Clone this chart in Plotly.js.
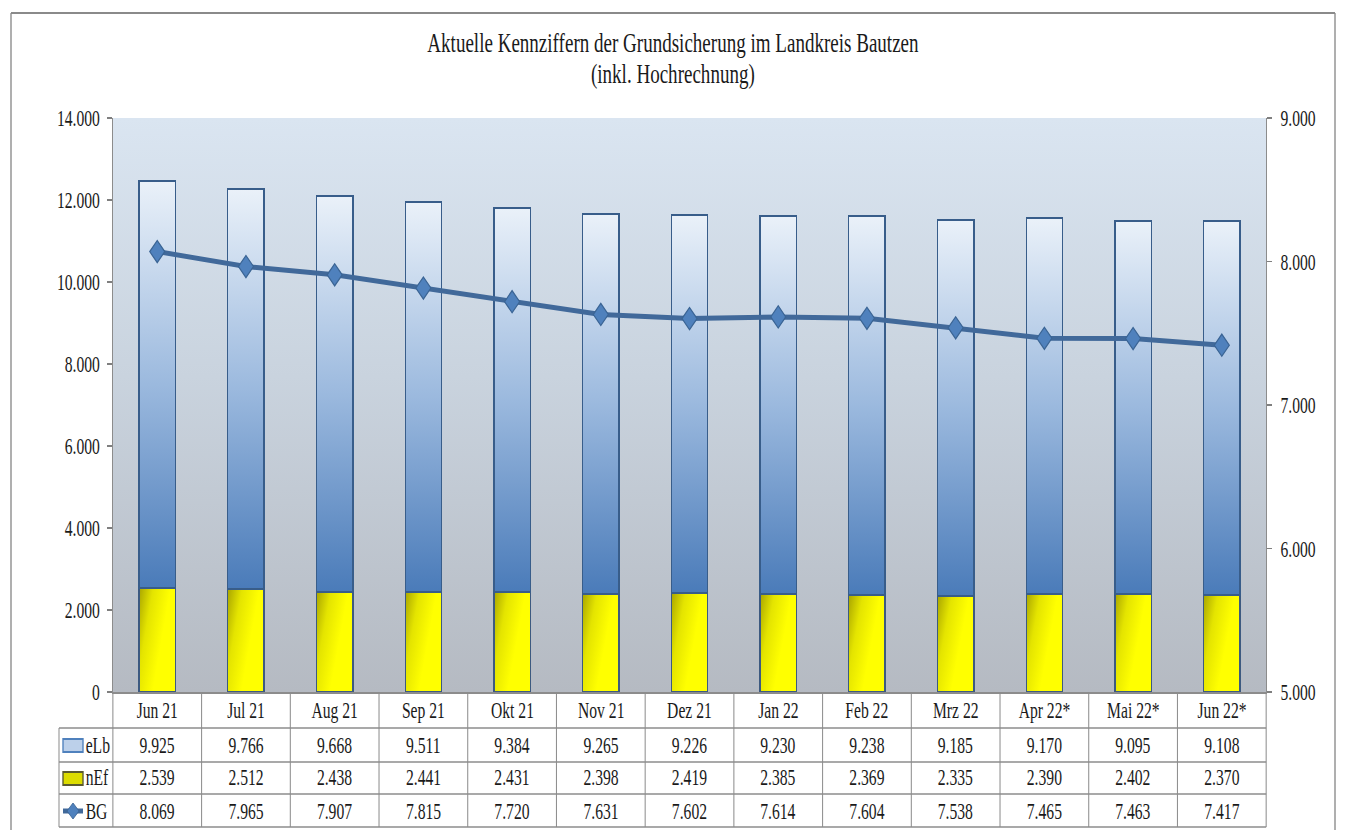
<!DOCTYPE html>
<html>
<head>
<meta charset="utf-8">
<script src="https://cdn.plot.ly/plotly-3.0.1.min.js"></script>
<style>
  html, body { margin: 0; padding: 0; background: #ffffff; overflow: hidden; }
  #wrap { width: 1356px; height: 830px; overflow: hidden; position: relative; }
  #plot { width: 1994px; height: 830px; transform: scaleX(0.68); transform-origin: 0 0; }
</style>
</head>
<body>
<div id="wrap"><div id="plot"></div></div>
<script>
// ---------------- data ----------------
const categories = ['Jun 21','Jul 21','Aug 21','Sep 21','Okt 21','Nov 21','Dez 21','Jan 22','Feb 22','Mrz 22','Apr 22*','Mai 22*','Jun 22*'];
const eLb = [9925, 9766, 9668, 9511, 9384, 9265, 9226, 9230, 9238, 9185, 9170, 9095, 9108];
const nEf = [2539, 2512, 2438, 2441, 2431, 2398, 2419, 2385, 2369, 2335, 2390, 2402, 2370];
const BG  = [8069, 7965, 7907, 7815, 7720, 7631, 7602, 7614, 7604, 7538, 7465, 7463, 7417];
const rowLabels = ['eLb', 'nEf', 'BG'];
const leftTicks  = [0, 2000, 4000, 6000, 8000, 10000, 12000, 14000];
const rightTicks = [5000, 6000, 7000, 8000, 9000];
const titleLine1 = 'Aktuelle Kennziffern der Grundsicherung im Landkreis Bautzen';
const titleLine2 = '(inkl. Hochrechnung)';

// ---------------- geometry helpers ----------------
const S = 0.68;            // horizontal squeeze of the reference
const W = 1994, H = 830;
const L = 166, R = 132, T = 118, B = 138;
const PW = W - L - R, PH = H - T - B;
const fx = xr => (xr / S - L) / PW;        // reference px -> paper x
const fy = yr => (T + PH - yr) / PH;       // reference px -> paper y
const fmt = v => String(v).replace(/\B(?=(\d{3})+(?!\d))/g, '.');
const n = categories.length;
const colEdge = i => i / n;               // paper x of column boundary

const FONT = 'Liberation Serif, Times New Roman, serif';
const gridCol = '#8c8c8c';
const txtCol = '#1a1a1a';

// ---------------- traces ----------------
const traces = [
  { type: 'bar', name: 'nEf', x: categories, y: nEf,
    marker: { color: '#e6e600', line: { color: '#3d5a80', width: 2 } }, hoverinfo: 'skip' },
  { type: 'bar', name: 'eLb', x: categories, y: eLb,
    marker: { color: '#9ab8dd', line: { color: '#385d8a', width: 2 } }, hoverinfo: 'skip' },
  { type: 'scatter', mode: 'lines+markers', name: 'BG', x: categories, y: BG, yaxis: 'y2',
    line: { color: '#41699a', width: 5 },
    marker: { symbol: 'diamond', size: 17, color: '#4f81bd', line: { color: '#3a6494', width: 1.5 } },
    hoverinfo: 'skip', cliponaxis: false }
];

// ---------------- table (shapes + annotations) ----------------
const shapes = [];
const annotations = [];
const line = (x0, y0, x1, y1, c, w) => shapes.push({ type: 'line', xref: 'paper', yref: 'paper',
  x0, y0, x1, y1, line: { color: c || gridCol, width: w || 1.5 }, layer: 'above' });

// outer chart frame
const bx0 = fx(11), bx1 = fx(1335), by0 = fy(13), by1 = fy(832);
line(bx0, by0, bx1, by0, '#8a8a8a', 2);
line(bx0, by0, bx0, by1, '#8a8a8a', 2);
line(bx1, by0, bx1, by1, '#8a8a8a', 2);

// second title line
annotations.push({ xref: 'paper', yref: 'paper', x: fx(673), y: fy(73), text: titleLine2, showarrow: false,
  xanchor: 'center', yanchor: 'middle', font: { family: FONT, size: 28, color: txtCol } });

// table rows (reference px)
const rowBottom = 827;
const tx0 = fx(59);
[728, 762, 794, 827].forEach(y => line(tx0, fy(y), 1, fy(y)));
line(tx0, fy(728), tx0, fy(rowBottom));
for (let i = 0; i <= n; i++) line(colEdge(i), 0, colEdge(i), fy(rowBottom));

// header + value cells
const rowCenter = [710, 745, 778, 811];
const rows = [eLb, nEf, BG];
categories.forEach((c, i) => {
  annotations.push({ xref: 'x', yref: 'paper', x: c, y: fy(rowCenter[0]), text: c, showarrow: false,
    xanchor: 'center', yanchor: 'middle', font: { family: FONT, size: 23, color: txtCol } });
  rows.forEach((arr, r) => {
    annotations.push({ xref: 'x', yref: 'paper', x: c, y: fy(rowCenter[r + 1]), text: fmt(arr[i]),
      showarrow: false, xanchor: 'center', yanchor: 'middle',
      font: { family: FONT, size: 23, color: txtCol } });
  });
});
// legend labels in the first column
rowLabels.forEach((lab, r) => {
  annotations.push({ xref: 'paper', yref: 'paper', x: fx(84), y: fy(rowCenter[r + 1]), text: lab,
    showarrow: false, xanchor: 'left', yanchor: 'middle',
    font: { family: FONT, size: 23, color: txtCol } });
});
// legend keys
shapes.push({ type: 'rect', xref: 'paper', yref: 'paper', x0: fx(63), x1: fx(83), y0: fy(752), y1: fy(739),
  fillcolor: '#bcd0ea', line: { color: '#4f81bd', width: 2 }, layer: 'above' });
shapes.push({ type: 'rect', xref: 'paper', yref: 'paper', x0: fx(63), x1: fx(83), y0: fy(785), y1: fy(772),
  fillcolor: '#dcdc00', line: { color: '#5a5a30', width: 2 }, layer: 'above' });
line(fx(63), fy(811), fx(83), fy(811), '#41699a', 5);
{
  const cx = fx(73), cy = fy(811), dx = fx(79) - fx(73), dy = fy(803) - fy(811);
  shapes.push({ type: 'path', xref: 'paper', yref: 'paper',
    path: `M ${cx - dx},${cy} L ${cx},${cy + dy} L ${cx + dx},${cy} L ${cx},${cy - dy} Z`,
    fillcolor: '#4f81bd', line: { color: '#3a6494', width: 1 }, layer: 'above' });
}

// ---------------- layout ----------------
const layout = {
  width: W, height: H, autosize: false,
  margin: { l: L, r: R, t: T, b: B, pad: 0 },
  paper_bgcolor: '#ffffff', plot_bgcolor: '#c8d2dd',
  separators: ',.',
  barmode: 'stack', bargap: 0.59,
  showlegend: false,
  title: { text: titleLine1, font: { family: FONT, size: 28, color: txtCol },
    xref: 'container', x: 673 / 1356, xanchor: 'center', yref: 'container', y: 1 - 42 / 830, yanchor: 'middle' },
  xaxis: { type: 'category', range: [-0.5, n - 0.5], showticklabels: false, ticks: '',
    showline: true, linecolor: gridCol, linewidth: 1.5, showgrid: false, zeroline: false, fixedrange: true },
  yaxis: { range: [0, 14000], tickvals: leftTicks, tickformat: ',d', ticks: 'outside', ticklen: 7,
    tickcolor: '#7f7f7f', tickwidth: 1.5, ticklabelstandoff: 6,
    showline: true, linecolor: gridCol, linewidth: 1.5, showgrid: false, zeroline: false,
    tickfont: { family: FONT, size: 23, color: txtCol }, fixedrange: true },
  yaxis2: { range: [5000, 9000], tickvals: rightTicks, tickformat: ',d', overlaying: 'y', side: 'right',
    ticks: 'outside', ticklen: 7, tickcolor: '#7f7f7f', tickwidth: 1.5, ticklabelstandoff: 8,
    showline: true, linecolor: gridCol, linewidth: 1.5, showgrid: false, zeroline: false,
    tickfont: { family: FONT, size: 23, color: txtCol }, fixedrange: true },
  shapes: shapes,
  annotations: annotations
};

const gd = document.getElementById('plot');
Plotly.newPlot(gd, traces, layout, { staticPlot: true, displayModeBar: false }).then(function () {
  const ns = 'http://www.w3.org/2000/svg';
  const svg = gd.querySelector('svg.main-svg');
  let defs = svg.querySelector('defs');
  if (!defs) { defs = document.createElementNS(ns, 'defs'); svg.insertBefore(defs, svg.firstChild); }
  function grad(id, x1, y1, x2, y2, stops) {
    const g = document.createElementNS(ns, 'linearGradient');
    g.setAttribute('id', id);
    g.setAttribute('x1', x1); g.setAttribute('y1', y1); g.setAttribute('x2', x2); g.setAttribute('y2', y2);
    stops.forEach(s => {
      const st = document.createElementNS(ns, 'stop');
      st.setAttribute('offset', s[0]); st.setAttribute('stop-color', s[1]);
      g.appendChild(st);
    });
    defs.appendChild(g);
  }
  grad('gBg', 0, 0, 0, 1, [[0, '#dae5f1'], [0.45, '#c9d3de'], [1, '#b5bac2']]);
  grad('gBlue', 0, 0, 0, 1, [[0, '#eaf1f9'], [0.5, '#9bb9de'], [1, '#4a7bb9']]);
  grad('gYel', 0, 0, 0.7, 0.35, [[0, '#a9a500'], [0.45, '#e4e400'], [1, '#ffff00']]);
  const barTraces = gd.querySelectorAll('.barlayer .trace');
  if (barTraces[0]) barTraces[0].querySelectorAll('path').forEach(p => p.style.fill = 'url(#gYel)');
  if (barTraces[1]) barTraces[1].querySelectorAll('path').forEach(p => p.style.fill = 'url(#gBlue)');
  gd.querySelectorAll('rect.bg').forEach(r => {
    const w = +r.getAttribute('width');
    if (w > 0 && w < W - 10) r.style.fill = 'url(#gBg)';
  });
});
</script>
</body>
</html>
